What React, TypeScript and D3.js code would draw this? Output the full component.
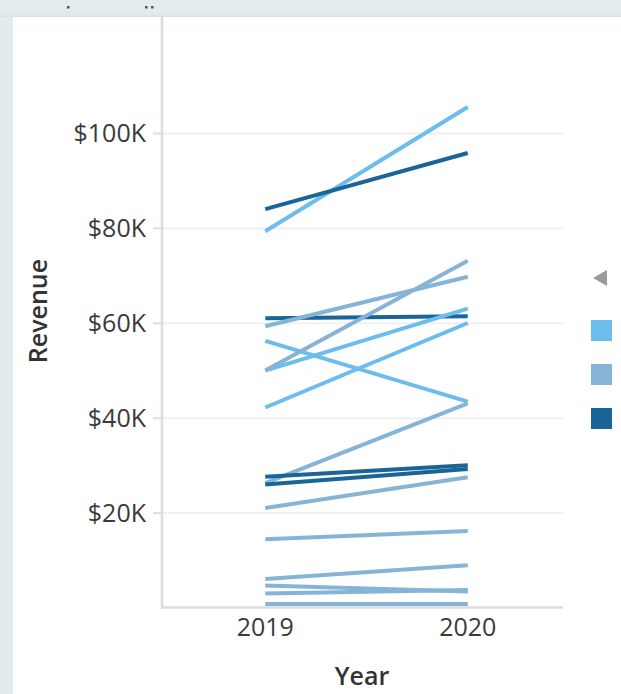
import React from "react";
import * as d3 from "d3";

const years = ["2019", "2020"];
const yTicks = [20000, 40000, 60000, 80000, 100000];
const groups = ["A", "B", "C"];
const groupColors = ["#6cbcee", "#86b4d6", "#1a6598"];

// each series: group, revenue in 2019, revenue in 2020
const seriesGroup = ["A", "C", "C", "B", "A", "A", "B", "A", "B", "C", "C", "B", "B", "B", "B", "B", "B"];
const rev2019 = [79400, 84050, 61080, 59370, 56290, 50030, 50030, 42250, 26340, 27650, 26010, 21080, 14500, 6090, 4740, 3030, 820];
const rev2020 = [105590, 95890, 61500, 69820, 43480, 63080, 73190, 60060, 43120, 30100, 29300, 27570, 16210, 9020, 3460, 3810, 820];

const W = 621;
const H = 694;
const left = 162;
const right = 563;
const bottom = 608;
const top = 16;

export default function App() {
  const x = d3.scalePoint<string>().domain(years).range([164, 569]).padding(0.5);
  const y = d3.scaleLinear().domain([0, 100000]).range([bottom, 133.5]);
  const color = d3.scaleOrdinal<string, string>().domain(groups).range(groupColors);
  const line = d3
    .line<[string, number]>()
    .x((d) => x(d[0]) as number)
    .y((d) => y(d[1]));
  const fmt = (v: number) => `$${d3.format("d")(v / 1000)}K`;
  const font = "'Open Sans', sans-serif";

  return (
    <svg
      width={W}
      height={H}
      style={{ position: "absolute", left: 0, top: 0, fontFamily: font }}
    >
      <defs>
        <linearGradient id="topg" x1="0" y1="0" x2="0" y2="1">
          <stop offset="0" stopColor="#e3edef" />
          <stop offset="0.8" stopColor="#e1ebed" />
          <stop offset="1" stopColor="#d6e1e4" />
        </linearGradient>
      </defs>
      <rect x={0} y={0} width={W} height={H} fill="#e2ecee" />
      <rect x={0} y={0} width={W} height={17} fill="url(#topg)" />
      <rect x={13} y={17} width={W - 13} height={H - 17} fill="#ffffff" />
      <rect x={67} y={6} width={2.5} height={2.5} fill="#555" />
      <rect x={145} y={6} width={2.5} height={2.5} fill="#555" />
      <rect x={151} y={6} width={2.5} height={2.5} fill="#555" />

      {/* gridlines + ticks */}
      {yTicks.map((t) => (
        <g key={t}>
          <line x1={left} x2={right} y1={y(t)} y2={y(t)} stroke="#f0f0f0" strokeWidth={2} />
          <line x1={153} x2={left} y1={y(t)} y2={y(t)} stroke="#dedede" strokeWidth={2} />
          <text
            x={146}
            y={y(t)}
            dy="0.35em"
            textAnchor="end"
            fontSize={25}
            fill="#3a3a3a"
          >
            {fmt(t)}
          </text>
        </g>
      ))}

      {/* axes */}
      <line x1={left} x2={left} y1={top} y2={bottom} stroke="#dcdcdc" strokeWidth={2.5} />
      <line x1={left - 1} x2={right} y1={bottom - 0.5} y2={bottom - 0.5} stroke="#dcdcdc" strokeWidth={2.5} />

      {/* lines */}
      {rev2019.map((v, i) => (
        <path
          key={i}
          d={line([
            [years[0], v],
            [years[1], rev2020[i]],
          ]) as string}
          fill="none"
          stroke={color(seriesGroup[i])}
          strokeWidth={4}
          strokeLinecap="butt"
        />
      ))}

      {/* x tick labels */}
      {years.map((yr) => (
        <text key={yr} x={x(yr)} y={636} textAnchor="middle" fontSize={25} fill="#3a3a3a">
          {yr}
        </text>
      ))}

      <text x={362} y={685} textAnchor="middle" fontSize={25} fontWeight={600} fill="#333">
        Year
      </text>
      <text
        transform={`translate(47,311) rotate(-90)`}
        textAnchor="middle"
        fontSize={25}
        fontWeight={600}
        fill="#333"
      >
        Revenue
      </text>

      {/* legend */}
      <path d="M593,278 L607,270 L607,286 Z" fill="#9a9a9a" />
      {groups.map((g, i) => (
        <rect key={g} x={591} y={320 + i * 44} width={21} height={21} fill={color(g)} />
      ))}
    </svg>
  );
}
